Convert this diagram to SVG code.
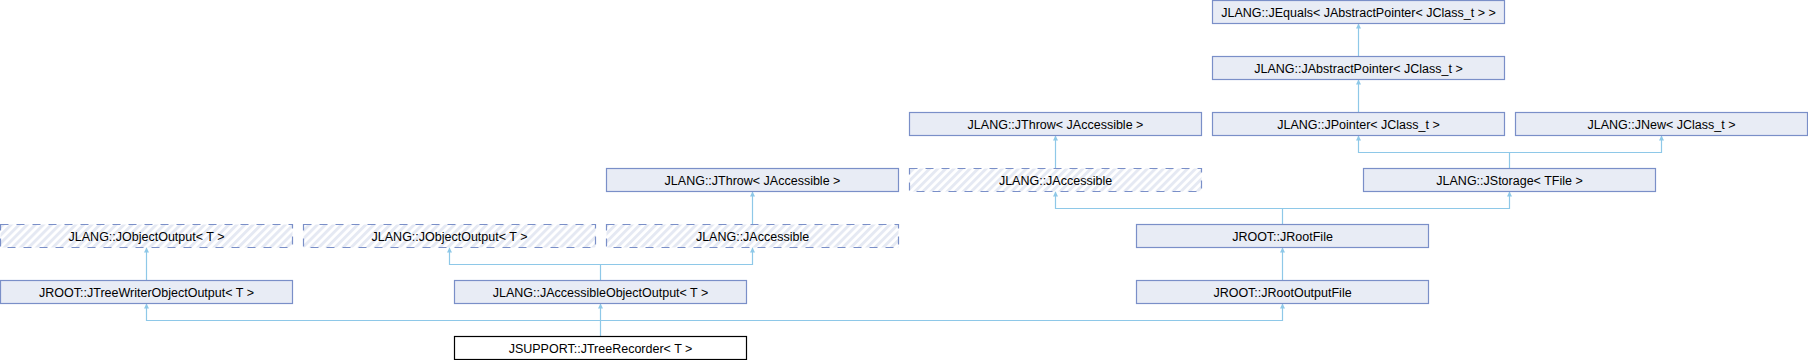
<svg xmlns="http://www.w3.org/2000/svg" width="1808" height="360" viewBox="0 0 1808 360">
<style>
  .box{fill:#E8ECF5;stroke:#7A8FC8;stroke-width:1.2}
  .abs{fill:url(#hatch);stroke:#7A8FC8;stroke-width:1.2;stroke-dasharray:8,8}
  .main{fill:#FFFFFF;stroke:#000000;stroke-width:1.2}
  text{font-family:"Liberation Sans",Arial,sans-serif;font-size:12.5px;fill:#000;text-anchor:middle}
  .edge{fill:none;stroke:#8EC8E8;stroke-width:1.2}
</style>
<defs>
  <pattern id="hatch" patternUnits="userSpaceOnUse" width="5.7" height="5.7" patternTransform="rotate(45)">
    <rect x="0" y="0" width="5.7" height="5.7" fill="#FFFFFF"/>
    <rect x="0" y="0" width="2.9" height="5.7" fill="#E5E9F3"/>
  </pattern>
  <marker id="arr" markerUnits="userSpaceOnUse" viewBox="0 0 10 10" refX="10" refY="5" markerWidth="7" markerHeight="5" orient="auto">
    <path d="M0,0 L10,5 L0,10 z" fill="#8EC8E8"/>
  </marker>
</defs>
<g id="connectors">
  <path class="edge" marker-end="url(#arr)" d="M1358.5,56.5 V23.5"/>
  <path class="edge" marker-end="url(#arr)" d="M1358.5,112.5 V79.5"/>
  <path class="edge" marker-end="url(#arr)" d="M1055.5,168.5 V135.5"/>
  <path class="edge" marker-end="url(#arr)" d="M1509.5,168.5 V152.5 H1358.5 V135.5"/>
  <path class="edge" marker-end="url(#arr)" d="M1509.5,152.5 H1661.5 V135.5"/>
  <path class="edge" marker-end="url(#arr)" d="M1282.5,224.5 V208.5 H1055.5 V191.5"/>
  <path class="edge" marker-end="url(#arr)" d="M1282.5,208.5 H1509.5 V191.5"/>
  <path class="edge" marker-end="url(#arr)" d="M752.5,224.5 V191.5"/>
  <path class="edge" marker-end="url(#arr)" d="M600.5,280.5 V264.5 H449.5 V247.5"/>
  <path class="edge" marker-end="url(#arr)" d="M600.5,264.5 H752.5 V247.5"/>
  <path class="edge" marker-end="url(#arr)" d="M146.5,280.5 V247.5"/>
  <path class="edge" marker-end="url(#arr)" d="M1282.5,280.5 V247.5"/>
  <path class="edge" marker-end="url(#arr)" d="M600.5,336.5 V320.5 H146.5 V303.5"/>
  <path class="edge" marker-end="url(#arr)" d="M600.5,320.5 V303.5"/>
  <path class="edge" marker-end="url(#arr)" d="M600.5,320.5 H1282.5 V303.5"/>
</g>
<g id="n_jequals"><rect class="box" x="1212.5" y="0.5" width="292" height="23"/><text x="1358.5" y="16.5">JLANG::JEquals&lt; JAbstractPointer&lt; JClass_t &gt; &gt;</text></g>
<g id="n_jabstractpointer"><rect class="box" x="1212.5" y="56.5" width="292" height="23"/><text x="1358.5" y="72.5">JLANG::JAbstractPointer&lt; JClass_t &gt;</text></g>
<g id="n_jthrow_r"><rect class="box" x="909.5" y="112.5" width="292" height="23"/><text x="1055.5" y="128.5">JLANG::JThrow&lt; JAccessible &gt;</text></g>
<g id="n_jpointer"><rect class="box" x="1212.5" y="112.5" width="292" height="23"/><text x="1358.5" y="128.5">JLANG::JPointer&lt; JClass_t &gt;</text></g>
<g id="n_jnew"><rect class="box" x="1515.5" y="112.5" width="292" height="23"/><text x="1661.5" y="128.5">JLANG::JNew&lt; JClass_t &gt;</text></g>
<g id="n_jthrow_l"><rect class="box" x="606.5" y="168.5" width="292" height="23"/><text x="752.5" y="184.5">JLANG::JThrow&lt; JAccessible &gt;</text></g>
<g id="n_jaccessible_r"><rect class="abs" x="909.5" y="168.5" width="292" height="23"/><text x="1055.5" y="184.5">JLANG::JAccessible</text></g>
<g id="n_jstorage"><rect class="box" x="1363.5" y="168.5" width="292" height="23"/><text x="1509.5" y="184.5">JLANG::JStorage&lt; TFile &gt;</text></g>
<g id="n_jobjectoutput1"><rect class="abs" x="0.5" y="224.5" width="292" height="23"/><text x="146.5" y="240.5">JLANG::JObjectOutput&lt; T &gt;</text></g>
<g id="n_jobjectoutput2"><rect class="abs" x="303.5" y="224.5" width="292" height="23"/><text x="449.5" y="240.5">JLANG::JObjectOutput&lt; T &gt;</text></g>
<g id="n_jaccessible_l"><rect class="abs" x="606.5" y="224.5" width="292" height="23"/><text x="752.5" y="240.5">JLANG::JAccessible</text></g>
<g id="n_jrootfile"><rect class="box" x="1136.5" y="224.5" width="292" height="23"/><text x="1282.5" y="240.5">JROOT::JRootFile</text></g>
<g id="n_jtreewriter"><rect class="box" x="0.5" y="280.5" width="292" height="23"/><text x="146.5" y="296.5">JROOT::JTreeWriterObjectOutput&lt; T &gt;</text></g>
<g id="n_jaccessibleobjectoutput"><rect class="box" x="454.5" y="280.5" width="292" height="23"/><text x="600.5" y="296.5">JLANG::JAccessibleObjectOutput&lt; T &gt;</text></g>
<g id="n_jrootoutputfile"><rect class="box" x="1136.5" y="280.5" width="292" height="23"/><text x="1282.5" y="296.5">JROOT::JRootOutputFile</text></g>
<g id="n_jtreerecorder"><rect class="main" x="454.5" y="336.5" width="292" height="23"/><text x="600.5" y="352.5">JSUPPORT::JTreeRecorder&lt; T &gt;</text></g>
</svg>
